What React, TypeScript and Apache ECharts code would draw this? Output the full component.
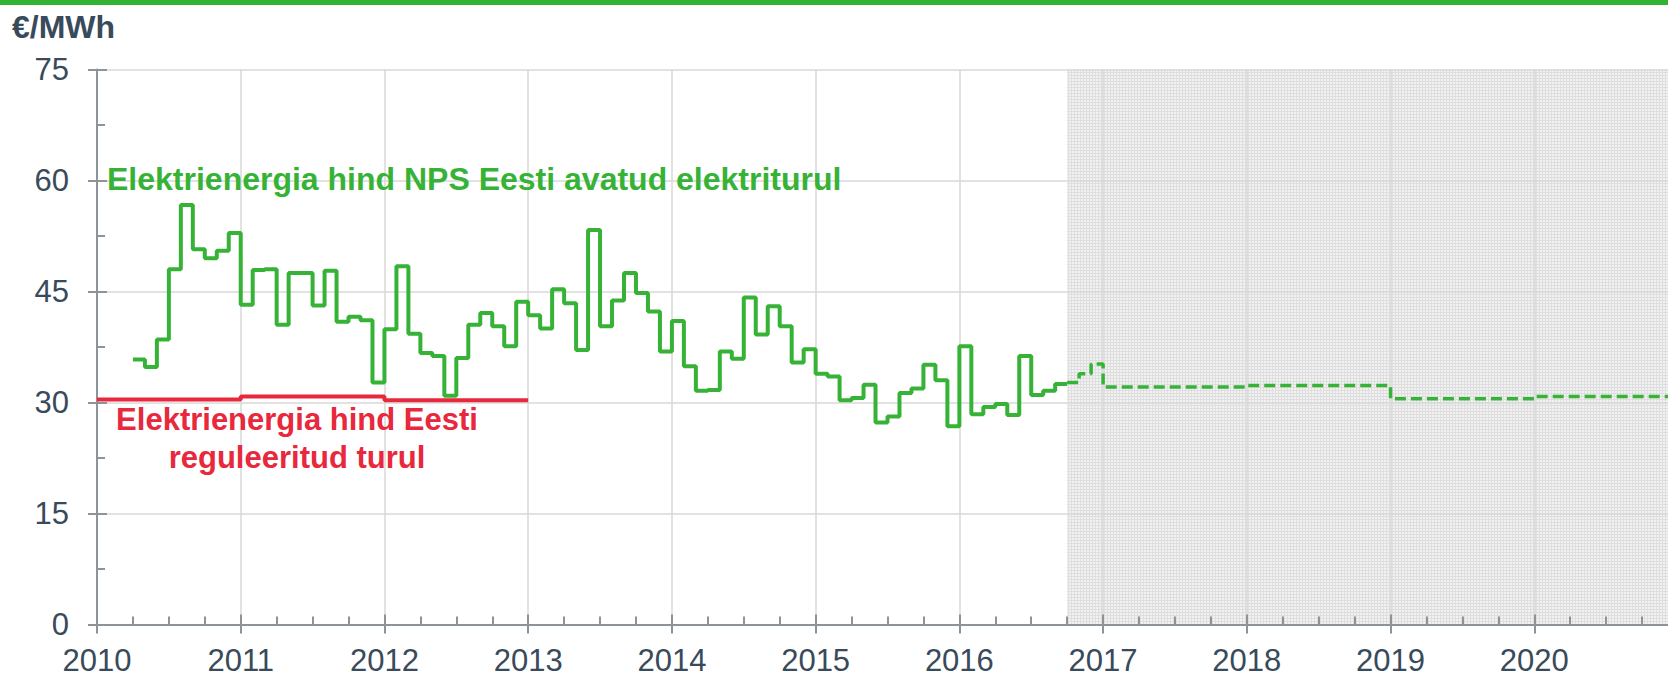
import React, { useEffect, useRef } from "react";
import * as echarts from "echarts";

// ---- data ----
const npsFirstMonth = 2010 + 3 / 12; // April 2010
const npsMonthly = [
  // 2010 Apr..Dec
  35.8, 34.8, 38.5, 48.0, 56.7, 50.7, 49.5, 50.5, 52.9,
  // 2011
  43.2, 47.9, 48.0, 40.5, 47.5, 47.5, 43.1, 47.8, 40.9, 41.6, 41.1, 32.7,
  // 2012
  39.9, 48.4, 39.3, 36.7, 36.3, 30.9, 36.0, 40.5, 42.1, 40.3, 37.6, 43.6,
  // 2013
  41.8, 40.0, 45.3, 43.4, 37.1, 53.3, 40.3, 43.8, 47.5, 44.8, 42.3, 36.9,
  // 2014
  41.0, 34.9, 31.6, 31.7, 36.9, 35.9, 44.2, 39.2, 43.0, 40.3, 35.4, 37.2,
  // 2015
  33.9, 33.5, 30.3, 30.6, 32.4, 27.3, 28.1, 31.3, 31.9, 35.1, 33.0, 26.8,
  // 2016 Jan..Sep
  37.6, 28.4, 29.4, 29.8, 28.3, 36.3, 31.0, 31.6, 32.5,
];

const forecastX = [2016.75, 2016 + 10 / 12, 2016 + 11 / 12, 2017, 2018, 2019, 2020, 2021];
const forecastValues = [32.7, 33.9, 35.2, 32.1, 32.3, 30.5, 30.8, 30.8];

const regulatedYears = [2010, 2011, 2012, 2013];
const regulatedValues = [30.4, 30.8, 30.3, 30.3];

const yTicks = { min: 0, max: 75, interval: 15 };
const xRange = { min: 2010, max: 2021, interval: 1 };

const unitLabel = "€/MWh";
const npsLabel = "Elektrienergia hind NPS Eesti avatud elektriturul";
const regLabel1 = "Elektrienergia hind Eesti";
const regLabel2 = "reguleeritud turul";

const GREEN = "#36b336";
const RED = "#e8283c";
const AXIS = "#8c9399";
const TEXT = "#394a5b";

export default function App() {
  const ref = useRef<HTMLDivElement>(null);

  useEffect(() => {
    if (!ref.current) return;
    const chart = echarts.init(ref.current, null, { renderer: "svg" });

    const cv = document.createElement("canvas");
    cv.width = 3;
    cv.height = 3;
    const ctx = cv.getContext("2d")!;
    ctx.fillStyle = "#f2f2f2";
    ctx.fillRect(0, 0, 3, 3);
    ctx.fillStyle = "#dedede";
    ctx.fillRect(0, 0, 3, 1);
    ctx.fillRect(0, 0, 1, 3);

    const npsData: [number, number][] = npsMonthly.map((v, i) => [npsFirstMonth + i / 12, v]);
    npsData.push([npsFirstMonth + npsMonthly.length / 12, npsMonthly[npsMonthly.length - 1]]);
    const forecastData = forecastX.map((x, i) => [x, forecastValues[i]]);
    const regData = regulatedYears.map((x, i) => [x, regulatedValues[i]]);

    const baseX = {
      type: "value" as const,
      min: xRange.min,
      max: xRange.max,
      interval: xRange.interval,
      position: "bottom" as const,
    };
    const baseY = {
      type: "value" as const,
      min: yTicks.min,
      max: yTicks.max,
      interval: yTicks.interval,
      position: "left" as const,
    };

    chart.setOption({
      animation: false,
      backgroundColor: "#ffffff",
      grid: { left: 97, right: 0, top: 69.5, bottom: 52.5, containLabel: false },
      xAxis: [
        {
          ...baseX,
          z: 3,
          axisLine: { show: true, lineStyle: { color: AXIS, width: 2 } },
          axisTick: { show: true, inside: false, length: 9, lineStyle: { color: AXIS, width: 2 } },
          splitLine: { show: true, lineStyle: { color: "#d8d8d8", width: 1.5 } },
          axisLabel: {
            show: true,
            margin: 20,
            fontSize: 31,
            color: TEXT,
            fontFamily: "Liberation Sans, Arial, sans-serif",
            formatter: (v: number) => (Number.isInteger(v) && v < 2021 ? String(v) : ""),
          },
        },
        {
          ...baseX,
          z: 3,
          axisLine: { show: false },
          axisTick: { show: true, inside: true, length: 10, lineStyle: { color: AXIS, width: 2 } },
          minorTick: { show: true, splitNumber: 4, length: 8, lineStyle: { color: AXIS, width: 2 } },
          splitLine: { show: false },
          axisLabel: { show: false },
        },
      ],
      yAxis: [
        {
          ...baseY,
          z: 3,
          axisLine: { show: true, lineStyle: { color: AXIS, width: 2 } },
          axisTick: { show: true, inside: false, length: 9, lineStyle: { color: AXIS, width: 2 } },
          splitLine: { show: true, lineStyle: { color: "#d8d8d8", width: 1.5 } },
          axisLabel: {
            show: true,
            margin: 28,
            fontSize: 31,
            color: TEXT,
            fontFamily: "Liberation Sans, Arial, sans-serif",
          },
        },
        {
          ...baseY,
          z: 3,
          axisLine: { show: false },
          axisTick: { show: true, inside: true, length: 10, lineStyle: { color: AXIS, width: 2 } },
          minorTick: { show: true, splitNumber: 2, length: 8, lineStyle: { color: AXIS, width: 2 } },
          splitLine: { show: false },
          axisLabel: { show: false },
        },
      ],
      series: [
        {
          type: "line",
          z: 1,
          data: forecastData,
          symbol: "none",
          lineStyle: { width: 0, opacity: 0 },
          silent: true,
          markArea: {
            silent: true,
            itemStyle: { color: { image: cv, repeat: "repeat" } as any },
            data: [[{ xAxis: forecastX[0], yAxis: yTicks.max }, { xAxis: xRange.max, yAxis: yTicks.min }]],
          },
        },
        {
          type: "line",
          z: 5,
          step: "end",
          data: regData,
          symbol: "none",
          lineStyle: { color: RED, width: 4 },
        },
        {
          type: "line",
          z: 6,
          step: "end",
          data: npsData,
          symbol: "none",
          lineStyle: { color: GREEN, width: 4 },
        },
        {
          type: "line",
          z: 6,
          step: "end",
          data: forecastData,
          symbol: "none",
          lineStyle: { color: GREEN, width: 3.5, type: [11, 5] },
        },
      ],
      graphic: [
        { type: "rect", left: 0, top: 0, shape: { x: 0, y: 0, width: 1700, height: 5 }, style: { fill: "#33b233" }, z: 10 },
        {
          type: "text",
          x: 12,
          y: 26.5,
          z: 10,
          style: {
            text: unitLabel,
            font: "bold 32px 'Liberation Sans', Arial, sans-serif",
            fill: TEXT,
            verticalAlign: "middle",
            align: "left",
          },
        },
        {
          type: "text",
          x: 107,
          y: 178.5,
          z: 10,
          style: {
            text: npsLabel,
            font: "bold 32px 'Liberation Sans', Arial, sans-serif",
            fill: GREEN,
            verticalAlign: "middle",
            align: "left",
          },
        },
        {
          type: "text",
          x: 297,
          y: 419,
          z: 10,
          style: {
            text: regLabel1,
            font: "bold 31px 'Liberation Sans', Arial, sans-serif",
            fill: RED,
            verticalAlign: "middle",
            align: "center",
          },
        },
        {
          type: "text",
          x: 297,
          y: 457,
          z: 10,
          style: {
            text: regLabel2,
            font: "bold 31px 'Liberation Sans', Arial, sans-serif",
            fill: RED,
            verticalAlign: "middle",
            align: "center",
          },
        },
      ],
    });

    return () => chart.dispose();
  }, []);

  return (
    <div
      ref={ref}
      style={{ position: "fixed", left: 0, top: 0, width: 1681, height: 677, background: "#fff" }}
    />
  );
}
